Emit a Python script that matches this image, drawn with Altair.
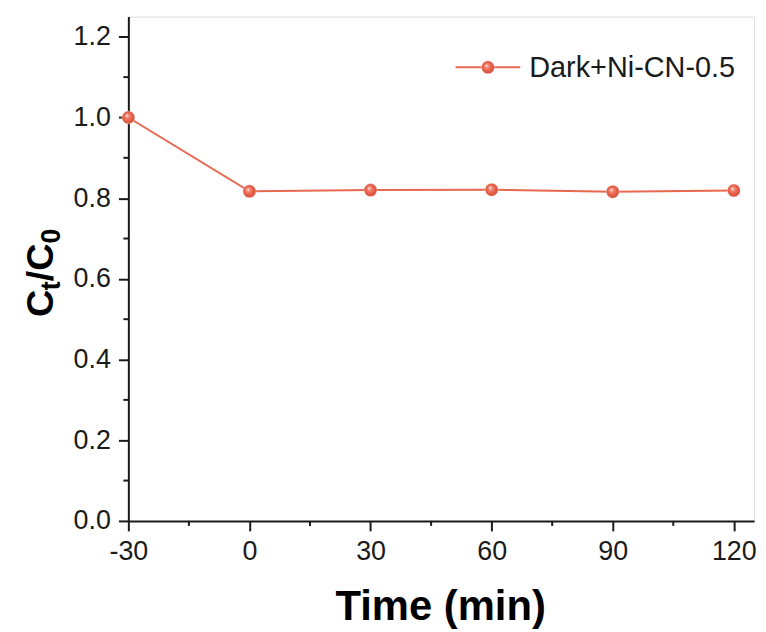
import altair as alt
import pandas as pd

# ---- data ----
series_name = "Dark+Ni-CN-0.5"
time_min = [-30, 0, 30, 60, 90, 120]
ct_c0 = [1.0, 0.817, 0.820, 0.821, 0.816, 0.819]
x_ticks = [-30, 0, 30, 60, 90, 120]
x_minor = [-15, 15, 45, 75, 105]
y_ticks = [0.0, 0.2, 0.4, 0.6, 0.8, 1.0, 1.2]
y_minor = [0.1, 0.3, 0.5, 0.7, 0.9, 1.1]

df = pd.DataFrame({"time": time_min, "ratio": ct_c0, "series": series_name})
dfx = pd.DataFrame({"t": x_minor})
dfy = pd.DataFrame({"v": y_minor})

LINE = "#E8674F"
FONT = "Liberation Sans"
AX = "#1a1a1a"

sphere = alt.Gradient(
    gradient="radial",
    x1=0.38, y1=0.35, r1=0.0,
    x2=0.5, y2=0.5, r2=0.55,
    stops=[
        alt.GradientStop(offset=0.0, color="#ffffff"),
        alt.GradientStop(offset=0.25, color="#F08A75"),
        alt.GradientStop(offset=0.6, color="#E8604A"),
        alt.GradientStop(offset=1.0, color="#C94A36"),
    ],
)

xscale = alt.Scale(domain=[-30, 125], nice=False, zero=False)
yscale = alt.Scale(domain=[0, 1.25], nice=False, zero=False)

base = alt.Chart(df)

line = base.mark_line(color=LINE, strokeWidth=2).encode(
    x=alt.X("time:Q", scale=xscale,
            axis=alt.Axis(values=x_ticks, title=None, labelFontSize=27, labelFont=FONT,
                          labelExpr="datum.value + ''",
                          labelColor=AX, tickSize=10, tickWidth=2, tickColor=AX,
                          domainWidth=2, domainColor=AX, labelPadding=8, grid=False,
                          labelFlush=False)),
    y=alt.Y("ratio:Q", scale=yscale,
            axis=alt.Axis(values=y_ticks, format=".1f", title=None, labelFontSize=27,
                          labelFont=FONT, labelColor=AX, tickSize=10, tickWidth=2,
                          tickColor=AX, domainWidth=2, domainColor=AX, labelPadding=8,
                          grid=False, labelFlush=False)),
)

points = base.mark_point(filled=True, size=170, fill=sphere, opacity=1,
                         stroke="white", strokeWidth=0.6, strokeOpacity=0.6).encode(
    x="time:Q", y="ratio:Q"
)

# minor ticks
xminor = alt.Chart(dfx).mark_rule(color=AX, strokeWidth=2).encode(
    x=alt.X("t:Q", scale=xscale),
    y=alt.value(507), y2=alt.value(512),
)
yminor = alt.Chart(dfy).mark_rule(color=AX, strokeWidth=2).encode(
    y=alt.Y("v:Q", scale=yscale),
    x=alt.value(0), x2=alt.value(-5),
)

# legend (manual)
leg = pd.DataFrame({"label": [series_name]})
leg_line = alt.Chart(leg).mark_rule(color=LINE, strokeWidth=2).encode(
    x=alt.value(329), x2=alt.value(394), y=alt.value(51)
)
leg_pt = alt.Chart(leg).mark_point(filled=True, size=170, fill=sphere, opacity=1,
                                   stroke="white", strokeWidth=0.6, strokeOpacity=0.6).encode(
    x=alt.value(361.5), y=alt.value(51)
)
leg_txt = alt.Chart(leg).mark_text(align="left", baseline="middle", fontSize=29,
                                   font=FONT, color=AX).encode(
    x=alt.value(403), y=alt.value(52), text="label:N"
)

# axis titles
x_title = alt.Chart(leg).mark_text(align="center", baseline="alphabetic", fontSize=42,
                                   fontWeight="bold", font=FONT, color="black").encode(
    x=alt.value(314), y=alt.value(607), text=alt.value("Time (min)")
)

def ytxt(s, x, y, size):
    return alt.Chart(leg).mark_text(align="left", baseline="alphabetic", angle=270,
                                    fontSize=size, fontWeight="bold", font=FONT,
                                    color="black").encode(
        x=alt.value(x), y=alt.value(y), text=alt.value(s)
    )

y_title = (
    ytxt("C", -76, 302, 38)
    + ytxt("t", -69, 275, 27)
    + ytxt("/C", -76, 266, 38)
    + ytxt("0", -69, 228, 27)
)

chart = alt.layer(
    line, points, xminor, yminor, leg_line, leg_pt, leg_txt, x_title, y_title
).properties(
    width=629, height=507,
    autosize=alt.AutoSizeParams(type="none"),
    padding={"left": 121, "top": 7, "right": 4, "bottom": 108},
).configure_view(
    stroke=AX, strokeWidth=2
).configure(background="white")

chart.save("out.html", embed_options={"renderer": "svg", "actions": False})
